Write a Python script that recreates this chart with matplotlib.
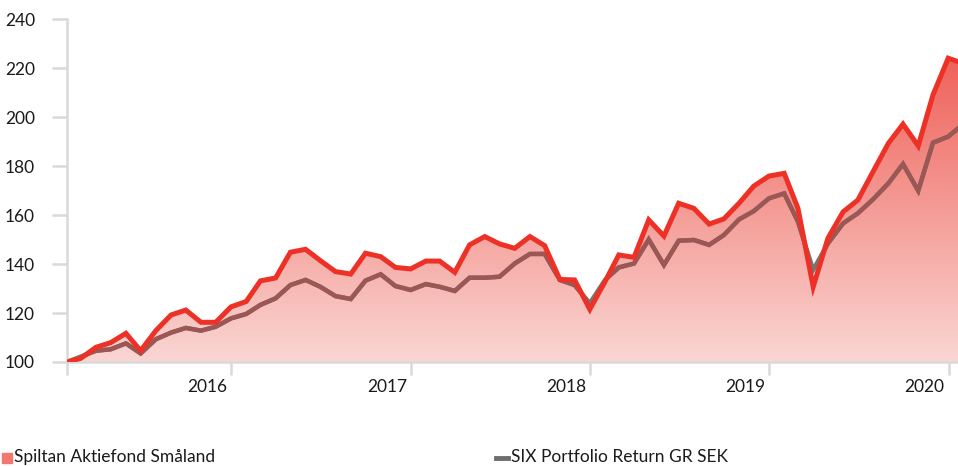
import numpy as np
import pandas as pd
import matplotlib
matplotlib.use("Agg")
import matplotlib.pyplot as plt
import matplotlib.dates as mdates
import matplotlib.transforms as mtransforms
from matplotlib.patches import Rectangle
from matplotlib.lines import Line2D

plt.rcParams['font.family'] = ['Lato', 'DejaVu Sans']

# month-end values, last point is mid January 2020
dates = [pd.Timestamp(2015, 1, 31) + pd.offsets.MonthEnd(i) for i in range(60)]
dates.append(pd.Timestamp(2020, 1, 20))

spiltan = [100, 101.5, 106, 107.9, 111.7, 104.6, 112.8, 119.2, 121.2, 116.2,
           116.2, 122.5, 124.7, 133.1, 134.3, 144.8, 146, 141.4, 136.9, 135.9,
           144.4, 143, 138.6, 138, 141.2, 141.2, 136.6, 147.8, 151.2, 148.2,
           146.4, 151.2, 147.5, 133.7, 133.5, 121.5, 132.8, 143.7, 142.7, 158,
           151.4, 164.8, 162.7, 156.3, 158.4, 164.8, 171.8, 175.9, 177, 162.7,
           130.7, 150.5, 161.3, 166.1, 177.7, 189.2, 197.1, 188.2, 209, 224, 222.6]

six_index = [100, 102.2, 104.6, 105.2, 107.6, 103.5, 109.3, 112, 113.9, 112.8,
             114.4, 117.8, 119.6, 123.3, 126, 131.4, 133.5, 130.7, 126.9, 125.7,
             133.2, 135.8, 131, 129.4, 131.8, 130.7, 129, 134.4, 134.4, 134.8,
             140.2, 144.1, 144.1, 133.5, 131.4, 124, 133.5, 138.6, 140.2, 150,
             139.6, 149.5, 149.8, 147.8, 151.8, 158.2, 161.6, 166.8, 168.8, 157.3,
             137.6, 148.4, 156.6, 160.7, 166.4, 172.9, 180.8, 169.9, 189.5, 192, 195.3]

yticks = [100, 120, 140, 160, 180, 200, 220, 240]
year_labels = ['2016', '2017', '2018', '2019', '2020']

W, H = 958, 466
fig = plt.figure(figsize=(W / 100, H / 100), dpi=100)
ax = fig.add_axes([67 / W, (H - 362) / H, (W - 67) / W, 343 / H])

x = mdates.date2num(dates)
ax.set_xlim(x[0], x[-1])
ax.set_ylim(100, 240)

# gradient fill under the fund line
poly = ax.fill_between(x, 100, spiltan, color='none', lw=0)
top = np.array([239, 98, 90]) / 255
bot = np.array([250, 214, 211]) / 255
t = np.linspace(0, 1, 256)[:, None]
grad = (bot + (top - bot) * t)[:, None, :]
im = ax.imshow(grad, extent=[x[0], x[-1], 100, 224], origin='lower',
               aspect='auto', zorder=1, interpolation='bilinear')
path = poly.get_paths()[0]
im.set_clip_path(path, transform=ax.transData)

# index line: grey on white, brownish where it lies over the red area
ax.plot(x, six_index, color='#757575', lw=3.2, zorder=2, solid_joinstyle='miter')
inner, = ax.plot(x, six_index, color='#9c5755', lw=3.2, zorder=2.1,
                 solid_joinstyle='miter')
inner.set_clip_path(path, transform=ax.transData)
ax.plot(x, spiltan, color='#ee3126', lw=3.6, zorder=3, solid_joinstyle='miter')

for s in ['top', 'right']:
    ax.spines[s].set_visible(False)
for s in ['left', 'bottom']:
    ax.spines[s].set_color('#d9d9d9')
    ax.spines[s].set_linewidth(1.8)

ax.set_yticks(yticks)
ax.set_yticklabels([str(v) for v in yticks])
ax.tick_params(axis='y', length=11, width=1.8, color='#d9d9d9', pad=12,
               labelsize=12.5, labelcolor='#1a1a1a')

year_pos = [mdates.date2num(pd.Timestamp(int(y), 1, 1)) for y in year_labels]
ax.set_xticks([x[0]] + year_pos)
ax.set_xticklabels([''] + year_labels)
ax.tick_params(axis='x', length=9, width=1.8, color='#d9d9d9', pad=3,
               labelsize=12.5, labelcolor='#1a1a1a')
offset = mtransforms.ScaledTranslation(-4 / 100, 0, fig.dpi_scale_trans)
for lab in ax.get_xticklabels():
    lab.set_ha('right')
    lab.set_transform(lab.get_transform() + offset)

# legend along the bottom edge
fig.patches.append(Rectangle((2 / W, 3 / H), 10 / W, 10 / H,
                             transform=fig.transFigure, color='#f2776f'))
fig.text(14 / W, 4 / H, 'Spiltan Aktiefond Småland', fontsize=12.5,
         color='#1a1a1a', va='baseline')
fig.lines.append(Line2D([496 / W, 508 / W], [8 / H, 8 / H],
                        transform=fig.transFigure, color='#6e6e6e', lw=3.5))
fig.text(511 / W, 4 / H, 'SIX Portfolio Return GR SEK', fontsize=12.5,
         color='#1a1a1a', va='baseline')

fig.savefig('out.png', dpi=100)
